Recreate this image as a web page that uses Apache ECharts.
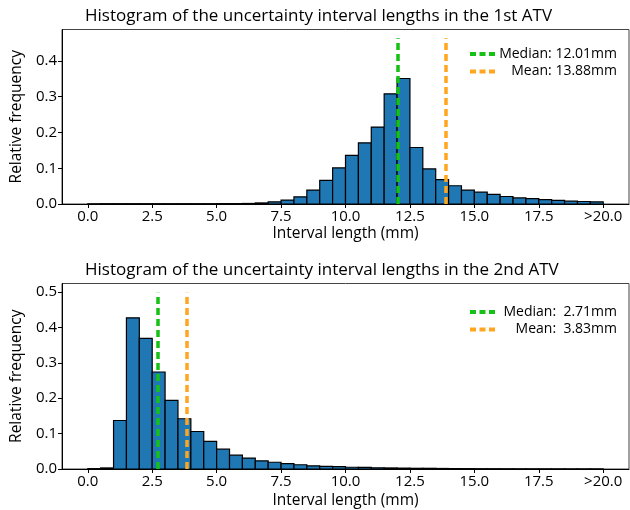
<!DOCTYPE html>
<html>
<head>
<meta charset="utf-8">
<script src="https://cdn.jsdelivr.net/npm/echarts@6/dist/echarts.min.js"></script>
<style>
  html, body { margin: 0; padding: 0; background: #fff; }
  #chart { width: 630px; height: 510px; }
</style>
</head>
<body>
<div id="chart"></div>
<script>
// bin left edges (mm), bins are 0.5 mm wide
var binWidth = 0.5;
var binStarts = [0, 0.5, 1, 1.5, 2, 2.5, 3, 3.5, 4, 4.5, 5, 5.5, 6, 6.5, 7, 7.5, 8, 8.5, 9, 9.5,
  10, 10.5, 11, 11.5, 12, 12.5, 13, 13.5, 14, 14.5, 15, 15.5, 16, 16.5, 17, 17.5, 18, 18.5, 19, 19.5];

// relative frequency per bin, 1st ATV
var freqAtv1 = [0.0005, 0.0008, 0.0008, 0.0008, 0.0008, 0.0008, 0.0008, 0.0008, 0.0008, 0.0008,
  0.001, 0.001, 0.0015, 0.003, 0.006, 0.011, 0.020, 0.039, 0.066, 0.101,
  0.136, 0.171, 0.215, 0.308, 0.351, 0.158, 0.098, 0.068, 0.051, 0.039,
  0.033, 0.027, 0.021, 0.017, 0.015, 0.012, 0.010, 0.008, 0.007, 0.006];

// relative frequency per bin, 2nd ATV
var freqAtv2 = [0.001, 0.003, 0.137, 0.427, 0.369, 0.274, 0.194, 0.142, 0.106, 0.078,
  0.056, 0.039, 0.031, 0.023, 0.019, 0.015, 0.012, 0.009, 0.0075, 0.0065,
  0.005, 0.0045, 0.0035, 0.003, 0.0025, 0.002, 0.002, 0.0015, 0.0012, 0.001,
  0.0008, 0.0007, 0.0006, 0.0005, 0.0005, 0.0004, 0.0004, 0.0003, 0.0003, 0.0003];

var xTicks = [0, 2.5, 5, 7.5, 10, 12.5, 15, 17.5, 20];
var yMax = [0.488, 0.524];
var medians = [12.01, 2.71];
var means = [13.88, 3.83];
var titles = [
  "Histogram of the uncertainty interval lengths in the 1st ATV",
  "Histogram of the uncertainty interval lengths in the 2nd ATV"
];
var medianNames = ["Median: 12.01mm", "Median:  2.71mm"];
var meanNames = ["Mean: 13.88mm", "Mean:  3.83mm"];

var FONT = "Open Sans";
var grids = [
  { left: 62, top: 29.5, width: 567, height: 174.5 },
  { left: 62, top: 283.5, width: 567, height: 187.5 }
];
// three short dashes, used as legend icon
var dashIcon = "path://M0,0h6v4h-6z M9.5,0h6v4h-6z M19,0h6v4h-6z";

function histData(freq) {
  return binStarts.map(function (s, i) {
    return [s, s + binWidth, freq[i]];
  });
}

function renderBar(params, api) {
  var p0 = api.coord([api.value(0), 0]);
  var p1 = api.coord([api.value(1), api.value(2)]);
  return {
    type: "rect",
    shape: { x: p0[0], y: p1[1], width: p1[0] - p0[0], height: p0[1] - p1[1] },
    style: { fill: "#1f77b4", stroke: "#000", lineWidth: 1.2 }
  };
}

var option = {
  backgroundColor: "#fff",
  animation: false,
  title: [],
  grid: [],
  xAxis: [],
  yAxis: [],
  legend: [],
  series: []
};

for (var k = 0; k < 2; k++) {
  option.title.push({
    text: titles[k],
    left: 80,
    top: k === 0 ? 3 : 257,
    textStyle: { fontFamily: FONT, fontSize: 17, fontWeight: "normal", color: "#000" }
  });
  option.grid.push({
    left: grids[k].left,
    top: grids[k].top,
    width: grids[k].width,
    height: grids[k].height,
    show: true,
    borderColor: "#444",
    borderWidth: 1
  });
  option.xAxis.push({
    type: "value",
    gridIndex: k,
    min: -1,
    max: 21,
    name: "Interval length (mm)",
    nameLocation: "middle",
    nameGap: k === 0 ? 22 : 24,
    nameTextStyle: { fontFamily: FONT, fontSize: 15.5, color: "#000" },
    splitLine: { show: false },
    axisLine: { onZero: false, lineStyle: { color: "#000", width: 1 } },
    axisTick: { customValues: xTicks, length: 4, lineStyle: { color: "#000" } },
    axisLabel: {
      customValues: xTicks,
      fontFamily: FONT,
      fontSize: 15,
      color: "#000",
      margin: 5,
      formatter: function (v) {
        return v >= 20 ? ">20.0" : v.toFixed(1);
      }
    }
  });
  option.yAxis.push({
    type: "value",
    gridIndex: k,
    min: 0,
    max: yMax[k],
    interval: 0.1,
    name: "Relative frequency",
    nameLocation: "middle",
    nameGap: 36,
    nameRotate: 90,
    nameTextStyle: { fontFamily: FONT, fontSize: 15.5, color: "#000" },
    splitLine: { show: false },
    axisLine: { onZero: false, lineStyle: { color: "#000", width: 1 } },
    axisTick: { length: 4, lineStyle: { color: "#000" } },
    axisLabel: {
      showMaxLabel: false,
      fontFamily: FONT,
      fontSize: 15,
      color: "#000",
      margin: 5,
      formatter: function (v) { return v.toFixed(1); }
    }
  });
  option.legend.push({
    data: [
      { name: medianNames[k], icon: dashIcon },
      { name: meanNames[k], icon: dashIcon }
    ],
    orient: "vertical",
    right: 8,
    top: k === 0 ? 42 : 300,
    itemWidth: 25,
    itemHeight: 4,
    itemGap: 3.5,
    textStyle: {
      fontFamily: FONT,
      fontSize: 14,
      color: "#000",
      rich: { r: { width: 117, align: "right", fontFamily: FONT, fontSize: 14 } }
    },
    formatter: function (name) { return "{r|" + name + "}"; }
  });
  option.series.push({
    type: "custom",
    xAxisIndex: k,
    yAxisIndex: k,
    renderItem: renderBar,
    encode: { x: [0, 1], y: 2 },
    data: histData(k === 0 ? freqAtv1 : freqAtv2),
    z: 2
  });
  var lines = [
    { name: medianNames[k], value: medians[k], color: "#14c114" },
    { name: meanNames[k], value: means[k], color: "#ffa51f" }
  ];
  lines.forEach(function (l) {
    option.series.push({
      name: l.name,
      type: "line",
      xAxisIndex: k,
      yAxisIndex: k,
      data: [],
      symbol: "none",
      color: l.color,
      itemStyle: { color: l.color },
      lineStyle: { color: l.color, width: 3.5, type: [7, 4] },
      markLine: {
        silent: true,
        symbol: "none",
        label: { show: false },
        lineStyle: { color: l.color, width: 3.5, type: [7, 4] },
        data: [[{ coord: [l.value, 0] }, { coord: [l.value, yMax[k] * 0.95] }]]
      },
      z: 5
    });
  });
}

var chart = echarts.init(document.getElementById("chart"));
chart.setOption(option);
</script>
</body>
</html>
